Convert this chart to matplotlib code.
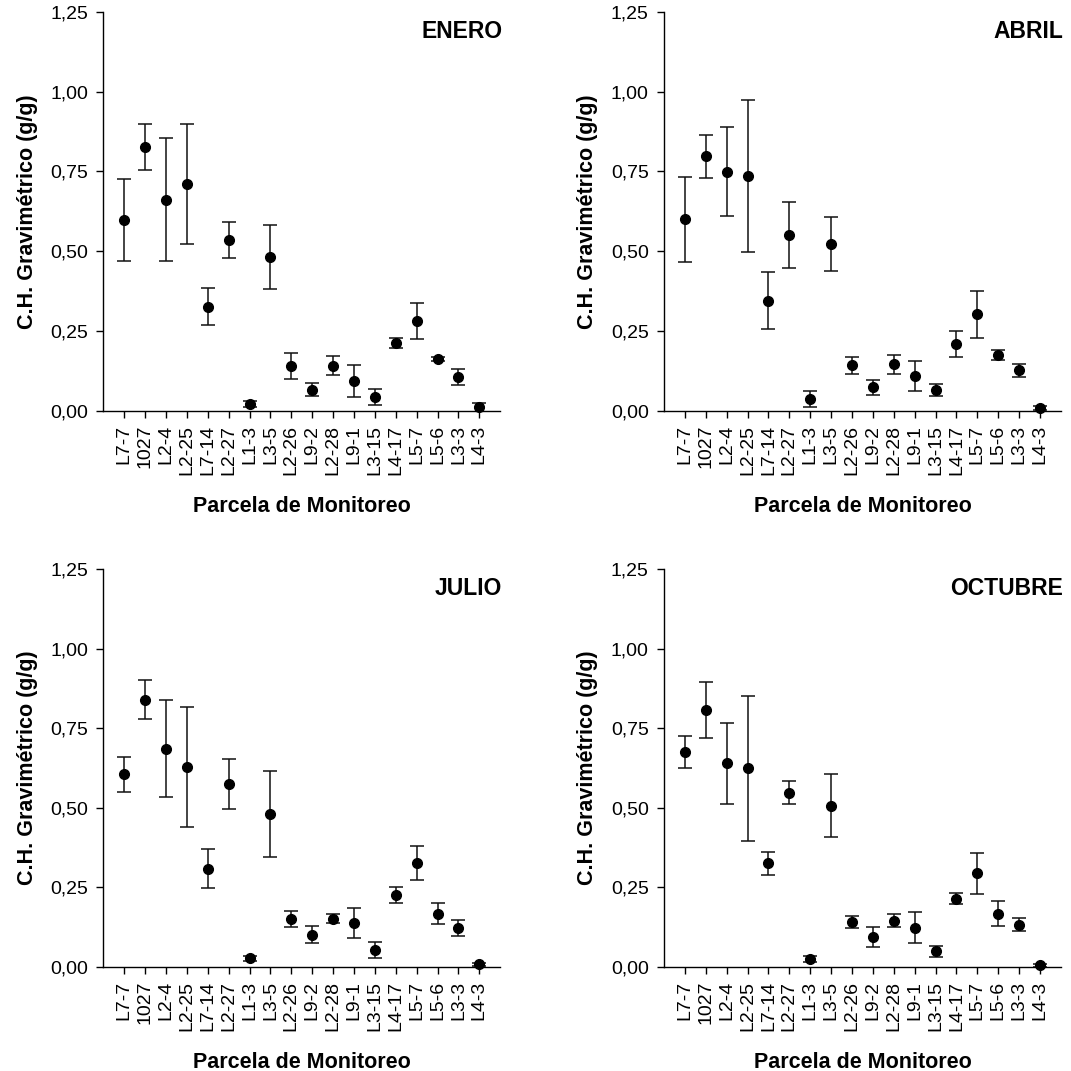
import matplotlib

matplotlib.use("Agg")
import matplotlib.pyplot as plt
import numpy as np

plt.rcParams["font.family"] = ["Liberation Sans", "DejaVu Sans"]

PARCELAS = [
    "L7-7", "1027", "L2-4", "L2-25", "L7-14", "L2-27", "L1-3", "L3-5", "L2-26",
    "L9-2", "L2-28", "L9-1", "L3-15", "L4-17", "L5-7", "L5-6", "L3-3", "L4-3",
]

enero_media = [0.598, 0.828, 0.662, 0.711, 0.326, 0.536, 0.021, 0.481, 0.140,
               0.066, 0.141, 0.093, 0.042, 0.212, 0.281, 0.163, 0.107, 0.011]
enero_error = [0.130, 0.072, 0.194, 0.188, 0.058, 0.057, 0.010, 0.100, 0.042,
               0.021, 0.030, 0.049, 0.025, 0.015, 0.056, 0.007, 0.025, 0.014]

abril_media = [0.600, 0.797, 0.749, 0.736, 0.345, 0.550, 0.037, 0.522, 0.143,
               0.073, 0.145, 0.108, 0.065, 0.210, 0.302, 0.174, 0.127, 0.008]
abril_error = [0.134, 0.068, 0.140, 0.237, 0.090, 0.103, 0.024, 0.084, 0.027,
               0.024, 0.031, 0.047, 0.020, 0.040, 0.073, 0.015, 0.020, 0.006]

julio_media = [0.605, 0.839, 0.686, 0.628, 0.309, 0.574, 0.027, 0.482, 0.150,
               0.102, 0.152, 0.139, 0.054, 0.225, 0.326, 0.168, 0.122, 0.009]
julio_error = [0.055, 0.061, 0.153, 0.189, 0.061, 0.079, 0.007, 0.135, 0.025,
               0.027, 0.013, 0.047, 0.026, 0.025, 0.054, 0.032, 0.025, 0.005]

octubre_media = [0.675, 0.807, 0.640, 0.624, 0.326, 0.547, 0.025, 0.507, 0.140,
                 0.094, 0.146, 0.124, 0.049, 0.214, 0.294, 0.168, 0.133, 0.005]
octubre_error = [0.049, 0.087, 0.127, 0.228, 0.036, 0.036, 0.008, 0.098, 0.019,
                 0.032, 0.019, 0.049, 0.017, 0.017, 0.065, 0.040, 0.020, 0.004]

Y_TICKS = [0.0, 0.25, 0.50, 0.75, 1.00, 1.25]
Y_TICK_LABELS = ["0,00", "0,25", "0,50", "0,75", "1,00", "1,25"]

PANELES = [
    ("ENERO", enero_media, enero_error),
    ("ABRIL", abril_media, abril_error),
    ("JULIO", julio_media, julio_error),
    ("OCTUBRE", octubre_media, octubre_error),
]

# axes rectangles in figure fraction (left, bottom, width, height)
POSICIONES = [
    (0.0965, 0.6165, 0.3705, 0.3723),
    (0.6200, 0.6165, 0.3705, 0.3723),
    (0.0965, 0.0971, 0.3705, 0.3716),
    (0.6200, 0.0971, 0.3705, 0.3716),
]


def plot_panel(ax, titulo, media, error):
    x = np.arange(len(PARCELAS))
    ax.errorbar(x, media, yerr=error, fmt="none", ecolor="#111111", elinewidth=1.1,
                capsize=5, capthick=1.1)
    ax.plot(x, media, "o", color="black", markersize=7, zorder=3, clip_on=False)

    ax.set_xlim(-1, 18)
    ax.set_ylim(0, 1.25)
    ax.set_xticks(x)
    ax.set_xticklabels(PARCELAS, rotation=90, fontsize=14)
    ax.set_yticks(Y_TICKS)
    ax.set_yticklabels(Y_TICK_LABELS, fontsize=14)
    ax.tick_params(direction="out", length=5, width=1)
    ax.tick_params(axis="x", pad=5)
    ax.tick_params(axis="y", pad=6)

    for side in ["top", "right"]:
        ax.spines[side].set_visible(False)
    for side in ["left", "bottom"]:
        ax.spines[side].set_linewidth(1.0)

    ax.set_xlabel("Parcela de Monitoreo", fontsize=15.5, fontweight="bold", labelpad=15)
    ax.set_ylabel("C.H. Gravimétrico (g/g)", fontsize=15.5, fontweight="bold", labelpad=9)
    ax.text(1.005, 0.98, titulo, transform=ax.transAxes, ha="right", va="top",
            fontsize=16.5, fontweight="bold")


def main():
    fig = plt.figure(figsize=(10.71, 10.71), dpi=100)
    for pos, (titulo, media, error) in zip(POSICIONES, PANELES):
        ax = fig.add_axes(pos)
        plot_panel(ax, titulo, media, error)
    fig.savefig("out.png", dpi=100)
    plt.close(fig)


if __name__ == "__main__":
    main()
